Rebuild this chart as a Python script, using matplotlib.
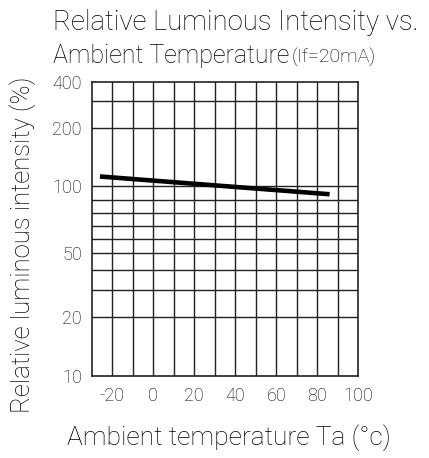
#! /usr/bin/env python3

import numpy as np
import matplotlib
matplotlib.use('Agg')
import matplotlib.pyplot as plt

# the curve (If=20mA)
temp = [-26, 86]
rel_int = [112, 94]

# grid values on the y axis of the hand drawn chart and where they sit (fraction of axis height)
y_grid = [10, 20, 30, 40, 50, 60, 70, 80, 90, 100, 200, 300, 400]
y_grid_pos = [0, 0.1986, 0.2915, 0.3595, 0.4163, 0.4639, 0.5092, 0.5544,
              0.5976, 0.6452, 0.8435, 0.9344, 1.0]
y_ticks = [10, 20, 50, 100, 200, 400]
x_ticks = [-20, 0, 20, 40, 60, 80, 100]

lg = np.log10(y_grid)
fwd = lambda v: np.interp(np.log10(np.clip(v, 1e-9, None)), lg, y_grid_pos)
inv = lambda f: 10 ** np.interp(f, y_grid_pos, lg)

plt.rcParams['font.family'] = ['Roboto', 'DejaVu Sans']
plt.rcParams['font.weight'] = 'light'

fig = plt.figure(figsize=(4.29, 4.58), dpi=100)
ax = fig.add_axes([0.2138, 0.1797, 0.6214, 0.6419])
ax.set_yscale('function', functions=(fwd, inv))
ax.set_xlim(-30, 100)
ax.set_ylim(10, 400)

for x in range(-20, 100, 10):
    ax.axvline(x, color='#222222', lw=1.0)
for y in y_grid[1:-1]:
    ax.axhline(y, color='#222222', lw=1.0)

ax.plot(temp, rel_int, color='black', lw=3.3, solid_capstyle='butt')

ax.set_xticks(x_ticks)
ax.set_xticklabels([str(t) for t in x_ticks], fontsize=13)
ax.set_yticks(y_ticks)
ax.set_yticklabels([str(t) for t in y_ticks], fontsize=13)
ax.yaxis.set_minor_locator(matplotlib.ticker.NullLocator())
ax.tick_params(axis='x', length=0, pad=8)
ax.tick_params(axis='y', length=0, pad=7)
for s in ax.spines.values():
    s.set_color('#222222')
    s.set_linewidth(1.2)

fig.text(0.1235, 0.9345, 'Relative Luminous Intensity vs.', fontsize=19.8, va='baseline')
fig.text(0.1235, 0.8624, 'Ambient Temperature', fontsize=18, va='baseline')
fig.text(0.6807, 0.8624, '(If=20mA)', fontsize=14, va='baseline')
fig.text(0.534, 0.0284, 'Ambient temperature Ta (\u00b0c)', fontsize=19,
         ha='center', va='baseline')
fig.text(0.054, 0.465, 'Relative luminous intensity (%)', fontsize=18.5,
         rotation=90, ha='center', va='center')

fig.savefig('out.png', dpi=100)
